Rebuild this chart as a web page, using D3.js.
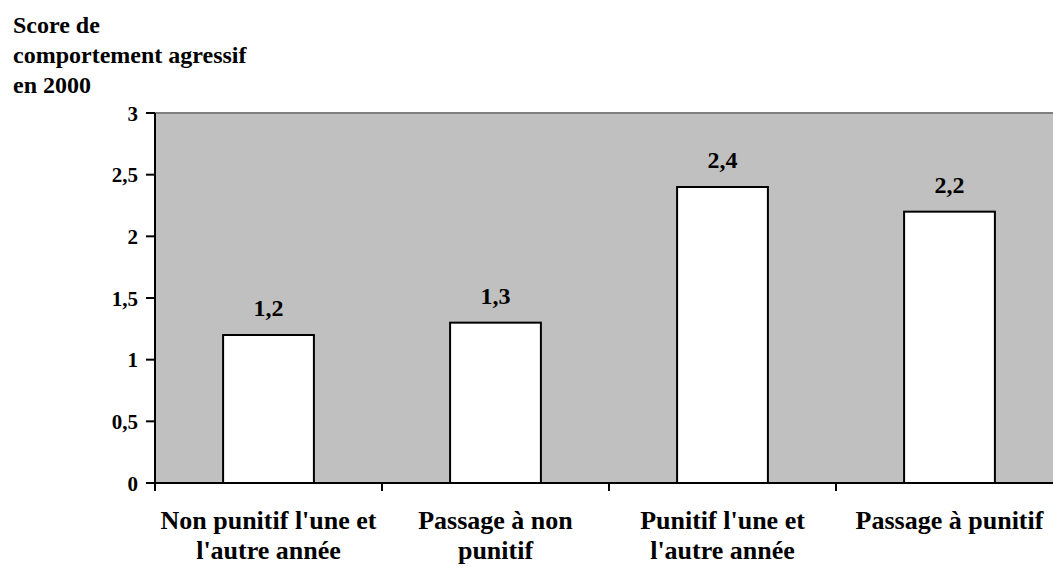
<!DOCTYPE html>
<html><head><meta charset="utf-8">
<script src="https://cdn.jsdelivr.net/npm/d3@7"></script>
<style>body{margin:0;background:#fff;}svg{display:block;}</style>
</head><body>
<script>
const categories = [["Non punitif l'une et","l'autre année"],["Passage à non","punitif"],["Punitif l'une et","l'autre année"],["Passage à punitif"]];
const values = [1.2, 1.3, 2.4, 2.2];
const valueLabels = ["1,2","1,3","2,4","2,2"];
const yTicks = [0,0.5,1,1.5,2,2.5,3];
const yTickLabels = ["0","0,5","1","1,5","2","2,5","3"];
const titleLines = ["Score de","comportement agressif","en 2000"];

const W=1053,H=569;
const FF='"Liberation Serif"';
const svg=d3.select("body").append("svg").attr("width",W).attr("height",H);
const L=155, R=155+4*227, T=113, B=483;
const x=d3.scaleBand().domain(d3.range(categories.length)).range([L,R]).paddingInner(0.6).paddingOuter(0.3);
const xb=d3.scaleBand().domain(d3.range(categories.length)).range([L,R]);
const y=d3.scaleLinear().domain([0,3]).range([B,T]);
function txt(sel,size){return sel.style("font-family",FF).style("font-weight","bold").style("font-size",size+"px");}

svg.append("rect").attr("x",L).attr("y",T).attr("width",R-L).attr("height",B-T).attr("fill","#c0c0c0");
svg.append("line").attr("x1",L).attr("x2",R).attr("y1",T).attr("y2",T).attr("stroke","#808080").attr("stroke-width",2);

svg.selectAll("rect.bar").data(values).enter().append("rect").attr("class","bar")
 .attr("x",(d,i)=>x(i)).attr("width",x.bandwidth())
 .attr("y",d=>y(d)).attr("height",d=>B-y(d))
 .attr("fill","#fff").attr("stroke","#000").attr("stroke-width",2);

txt(svg.selectAll("text.val").data(values).enter().append("text").attr("class","val")
 .attr("x",(d,i)=>x(i)+x.bandwidth()/2).attr("y",d=>y(d)-19)
 .attr("text-anchor","middle"),24)
 .text((d,i)=>valueLabels[i]);

// y axis
const ya=svg.append("g");
ya.append("line").attr("x1",L).attr("x2",L).attr("y1",T).attr("y2",B+7).attr("stroke","#000").attr("stroke-width",2);
yTicks.forEach((t,i)=>{
  ya.append("line").attr("x1",L-9).attr("x2",L).attr("y1",y(t)).attr("y2",y(t)).attr("stroke","#000").attr("stroke-width",2);
  txt(ya.append("text").attr("x",L-17).attr("y",y(t)+7.5).attr("text-anchor","end"),21).text(yTickLabels[i]);
});
// x axis
svg.append("line").attr("x1",L).attr("x2",R).attr("y1",B).attr("y2",B).attr("stroke","#000").attr("stroke-width",2);
d3.range(categories.length+1).forEach(i=>{
  const xx = i<categories.length ? xb(i) : R;
  svg.append("line").attr("x1",xx).attr("x2",xx).attr("y1",B).attr("y2",B+8).attr("stroke","#000").attr("stroke-width",2);
});
categories.forEach((lines,i)=>{
  const t=txt(svg.append("text").attr("text-anchor","middle"),26);
  lines.forEach((ln,j)=>t.append("tspan").attr("x",xb(i)+xb.bandwidth()/2).attr("y",529+j*29.5).text(ln));
});
// title
const tt=txt(svg.append("text"),24);
titleLines.forEach((ln,j)=>tt.append("tspan").attr("x",13).attr("y",32.5+j*30.3).text(ln));
</script>
</body></html>
